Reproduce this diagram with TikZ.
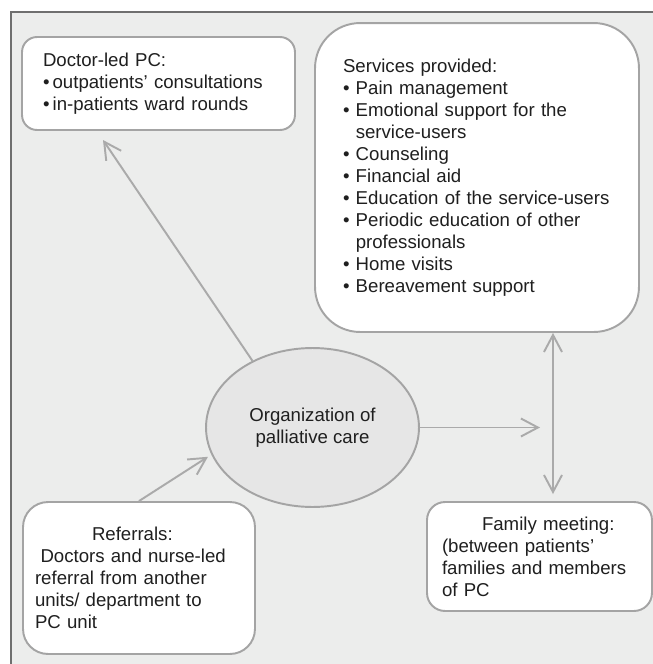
\documentclass[tikz,border=0pt]{standalone}
\usepackage{fontspec}
\setmainfont{Liberation Sans}
\usepackage{xcolor}
\usepackage{tikz}
\usetikzlibrary{arrows.meta}
\usetikzlibrary{shapes.geometric}
\definecolor{panel}{HTML}{ECEDEC}
\definecolor{edge}{HTML}{A4A4A4}
\definecolor{wire}{HTML}{AAAAAA}
\definecolor{frame}{HTML}{6F6F6F}
\definecolor{bubble}{HTML}{E6E6E6}
\begin{document}
\begin{tikzpicture}[x=0.02cm, y=-0.02cm, every node/.style={font=\fontsize{10.6pt}{12.5pt}\selectfont, text=black!88}, box/.style={draw=edge, line width=1.1pt, fill=white, align=left}, arr/.style={draw=wire, line width=1.1pt}, >={Straight Barb[length=3.4mm, width=3.6mm]}]
		\useasboundingbox (0,0) rectangle (653,664);
		\fill[white] (0,0) rectangle (653,664);
		\fill[panel] (11,12) rectangle (653,664);
		\draw[frame, line width=0.85pt] (11,664) -- (11,12) -- (653,12);
		\node[box, rounded corners=0.3cm, text width=4.62cm, inner xsep=0.42cm, minimum height=1.86cm] (doc) at (158.5,83.5) {Doctor-led PC:\\•\,outpatients’ consultations\\•\,in-patients ward rounds};
		\node[box, rounded corners=0.9cm, text width=5.36cm, inner xsep=0.56cm, minimum height=6.18cm] (srv) at (477,177.5) {Services provided:\\• Pain management\\• Emotional support for the\\\phantom{• }service-users\\• Counseling\\• Financial aid\\• Education of the service-users\\• Periodic education of other\\\phantom{• }professionals\\• Home visits\\• Bereavement support};
		\node[ellipse, draw=edge, line width=1.1pt, fill=bubble, minimum width=4.26cm, minimum height=3.18cm, inner sep=0pt, align=center] (org) at (312.5,427.5) {Organization of\\palliative care};
		\node[box, rounded corners=0.5cm, text width=4.16cm, inner xsep=0.24cm, minimum height=3.04cm] (ref) at (139,578) {\hspace*{1.14cm}Referrals:\\\hspace*{0.11cm}Doctors and nurse-led\\referral from another\\units/ department to\\PC unit};
		\node[box, rounded corners=0.36cm, text width=3.9cm, inner xsep=0.3cm, minimum height=2.18cm] (fam) at (539.5,556.5) {\hspace*{0.8cm}Family meeting:\\(between patients’\\families and members\\of PC};
		\coordinate (mid) at (553,427.5);
		\coordinate (dtip) at (103,140);
		\draw[arr, ->] (org.132) -- (dtip);
		\draw[arr, ->, shorten >=0.08cm] (ref.north) -- (org.195);
		\draw[arr, ->, shorten >=0.26cm] (org.east) -- (mid);
		\draw[arr, <->, shorten >=0.14cm] (srv.south -| mid) -- (fam.north -| mid);
	\end{tikzpicture}
\end{document}
